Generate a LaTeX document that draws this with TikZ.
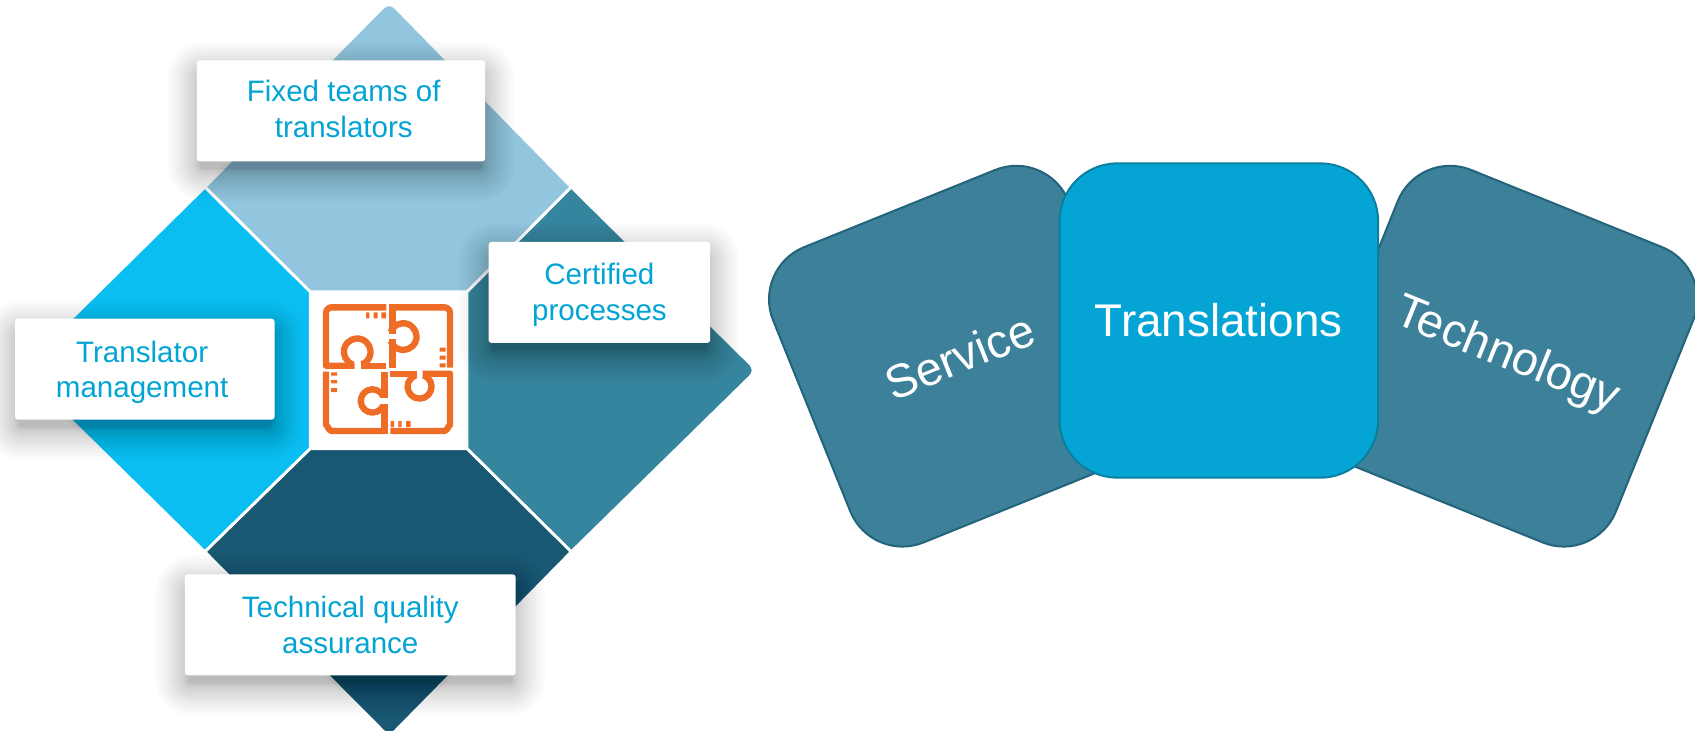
\documentclass[tikz,border=0pt]{standalone}
\usepackage{fontspec}
\setmainfont{Liberation Sans}
\definecolor{dtop}{HTML}{92C5DE}
\definecolor{dleft}{HTML}{0ABEF2}
\definecolor{dright}{HTML}{35859E}
\definecolor{dbottom}{HTML}{195872}
\definecolor{textblue}{HTML}{03A4D4}
\definecolor{sidefill}{HTML}{3C8099}
\definecolor{sideline}{HTML}{23647C}
\definecolor{midfill}{HTML}{04A5D4}
\definecolor{midline}{HTML}{0B7FA0}
\definecolor{puzzle}{HTML}{EE6C25}
\tikzset{
  quad/.style={line width=2pt,draw=white,line join=miter},
  card/.style={fill=white,rounded corners=2pt,inner sep=0pt,minimum height=70pt},
  cardtext/.style={align=center,text=textblue,inner sep=0pt,font=\fontsize{20.5}{24.7}\selectfont},
  sidecard/.style={fill=sidefill,draw=sideline,line width=1.4pt,minimum size=221pt,
    rounded corners=39pt,text=white,inner sep=0pt,font=\fontsize{32.6}{36}\selectfont},
  midcard/.style={fill=midfill,draw=midline,line width=1.4pt,minimum width=221pt,minimum height=218pt,
    rounded corners=40pt,text=white,inner sep=0pt,font=\fontsize{31.8}{36}\selectfont},
  pz/.style={draw=puzzle,line width=4.4pt,line cap=butt,line join=round},
  pzd/.style={fill=puzzle}
}
\newcommand{\softshadow}[4]{%
  \foreach \i in {1,...,20}{%
    \pgfmathsetmacro{\ee}{30*(\i/20)*(\i/20)-3}
    \pgfmathsetmacro{\rr}{0.75*(\ee+6)}
    \fill[black,opacity=0.017,rounded corners=\rr pt]
      ({#1-\ee},{#2+10-\ee}) rectangle ({#3+\ee},{#4+10+\ee});
  }}
\begin{document}
\begin{tikzpicture}[x=0.75pt,y=-0.75pt]
\useasboundingbox (0,0) rectangle (1568,676);
\clip (0,0) rectangle (1568,676);
% diamond
\path[quad,fill=dtop] (189.5,173) [rounded corners=6pt] -- (360,1) [sharp corners] -- (528.5,173) -- (432,270) -- (287,270) -- cycle;
\path[quad,fill=dleft] (189.5,173) -- (287,270) -- (287,415) -- (189.5,510.5) [rounded corners=6pt] -- (18,342) [sharp corners] -- cycle;
\path[quad,fill=dright] (528.5,173) [rounded corners=6pt] -- (700,342.5) [sharp corners] -- (528.5,510.5) -- (432,415) -- (432,270) -- cycle;
\path[quad,fill=dbottom] (189.5,510.5) -- (287,415) -- (432,415) -- (528.5,510.5) [rounded corners=6pt] -- (360,682) [sharp corners] -- cycle;
% puzzle icon
\begin{scope}[shift={(291.4,272.9)},x=0.2313pt,y=-0.2313pt]
  \draw[pz] (214,37) -- (50,37) to[out=180,in=90] (33,54) -- (33,212) -- (119,212);
  \draw[pz] (137,212) -- (214,212);
  \draw[pz] (113,208) arc[start angle=110,end angle=430,radius=40];
  \fill[pzd] (153,52) rectangle (163,70) (176,52) rectangle (188,70) (199,52) rectangle (213,70);
  \draw[pz] (232,28) -- (232,118);
  \draw[pz] (232,133) -- (232,218);
  \draw[pz] (232,37) -- (388,37) to[out=0,in=90] (405,54) -- (405,218);
  \draw[pz] (227,111) arc[start angle=-160,end angle=160,radius=40];
  \fill[pzd] (374,158) rectangle (392,170) (374,182) rectangle (392,194) (374,205) rectangle (392,217);
  \draw[pz] (33,230) -- (33,391) to[out=90,in=180] (50,408) -- (208,408);
  \draw[pz] (208,230) -- (208,310);
  \draw[pz] (208,328) -- (208,418);
  \draw[pz] (204,303) arc[start angle=-25,end angle=-335,radius=35];
  \fill[pzd] (48,232) rectangle (66,242) (48,255) rectangle (66,265) (48,279) rectangle (66,291);
  \draw[pz] (226,236) -- (305,236);
  \draw[pz] (323,236) -- (405,236) -- (405,391) to[out=90,in=0] (388,408) -- (226,408);
  \draw[pz] (326,241) arc[start angle=-70,end angle=250,radius=36];
  \fill[pzd] (227,378) rectangle (237,396) (250,378) rectangle (260,396) (273,378) rectangle (287,396);
\end{scope}
% cards
\softshadow{182}{56}{449}{149}
\softshadow{452}{224}{657}{317}
\softshadow{14}{295}{254}{388}
\softshadow{171}{531}{477}{625}
\node[card,minimum width=200pt] (fixed) at (315.5,102.5) {};
\node[cardtext] (fixedtext) at (318,101) {Fixed teams of\\translators};
\node[card,minimum width=153.75pt] (cert) at (554.5,270.5) {};
\node[cardtext] (certtext) at (554.5,272.5) {Certified\\processes};
\node[card,minimum width=180pt] (mgmt) at (134,341.5) {};
\node[cardtext] (mgmttext) at (131.5,344.5) {Translator\\management};
\node[card,minimum width=229.5pt] (qual) at (324,578) {};
\node[cardtext] (qualtext) at (324,578) {Technical quality\\assurance};
% right group
\node[sidecard,rotate=22] (service) at (887.5,329.5) {\raisebox{-2.5pt}{Service}};
\node[sidecard,rotate=-22] (tech) at (1394,329.5) {\raisebox{-2.5pt}{Technology}};
\node[midcard] (trans) at (1127.5,296.5) {Translations};
\end{tikzpicture}
\end{document}
